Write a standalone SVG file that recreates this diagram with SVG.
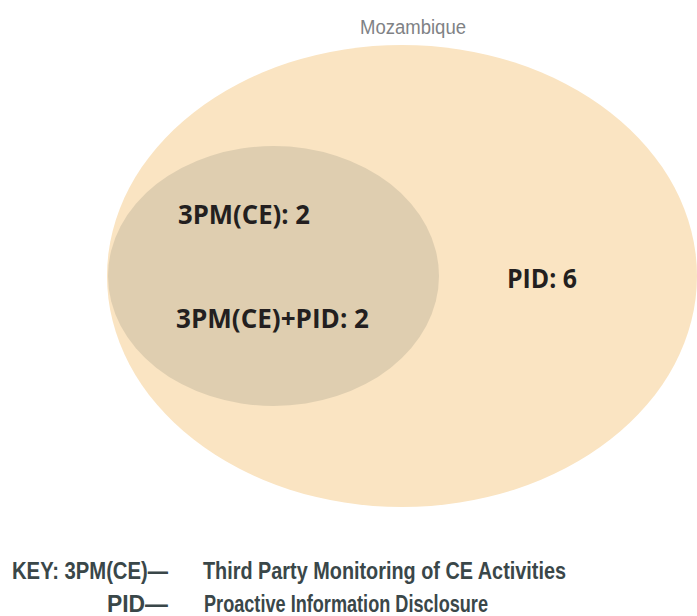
<svg xmlns="http://www.w3.org/2000/svg" width="697" height="616" viewBox="0 0 697 616">
  <style>
    .outer { fill: #FAE4C2; }
    .inner { fill: #DFCEB0; }
    .lbl { font-family: "Open Sans", "Liberation Sans", sans-serif; font-weight: 700; font-size: 26px; fill: #231F20; }
    .title { font-family: "Liberation Sans", "DejaVu Sans", sans-serif; font-size: 20px; fill: #808285; }
    .key { font-family: "Liberation Sans", "DejaVu Sans", sans-serif; font-weight: 700; font-size: 24px; fill: #3A4749; }
  </style>
  <rect width="697" height="616" fill="#FFFFFF"/>

  <text class="title" x="360" y="34" textLength="106" lengthAdjust="spacingAndGlyphs">Mozambique</text>

  <!-- outer set: PID -->
  <g id="pid">
    <ellipse class="outer" cx="402" cy="276" rx="295" ry="231"/>
    <text class="lbl" x="507" y="288" textLength="70" lengthAdjust="spacingAndGlyphs">PID: 6</text>
  </g>

  <!-- inner set: third party monitoring -->
  <g id="tpm">
    <ellipse class="inner" cx="273.5" cy="276" rx="165.5" ry="130"/>
    <text class="lbl" x="178" y="224" textLength="132" lengthAdjust="spacingAndGlyphs">3PM(CE): 2</text>
    <text class="lbl" x="176" y="328" textLength="193" lengthAdjust="spacingAndGlyphs">3PM(CE)+PID: 2</text>
  </g>

  <!-- legend -->
  <g id="key">
    <text class="key" x="12" y="579" textLength="156" lengthAdjust="spacingAndGlyphs">KEY: 3PM(CE)—</text>
    <text class="key" x="203" y="579" textLength="363" lengthAdjust="spacingAndGlyphs">Third Party Monitoring of CE Activities</text>
    <text class="key" x="107" y="612" textLength="61" lengthAdjust="spacingAndGlyphs">PID—</text>
    <text class="key" x="204" y="612" textLength="284" lengthAdjust="spacingAndGlyphs">Proactive Information Disclosure</text>
  </g>
</svg>
